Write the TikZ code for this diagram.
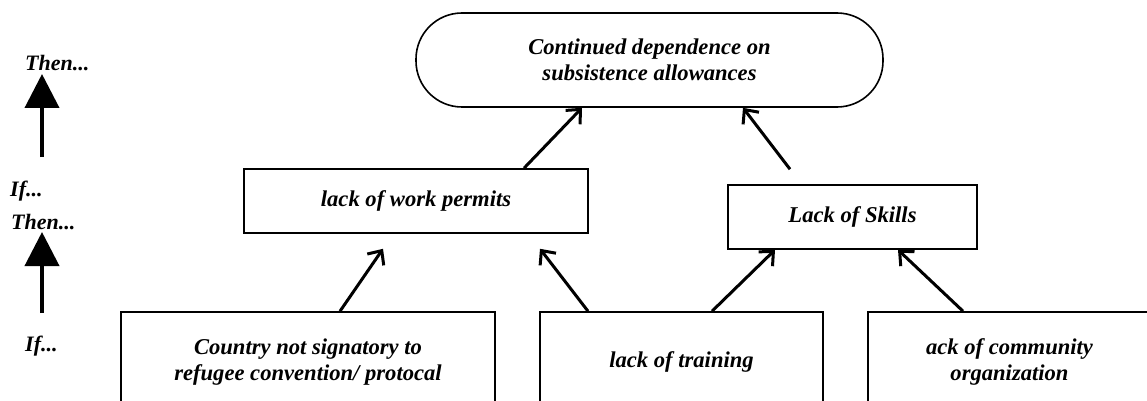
\documentclass[tikz,border=0pt]{standalone}
\usepackage{fontspec}
\setmainfont{Liberation Serif}
\usetikzlibrary{arrows.meta}

\tikzset{
  box/.style={rectangle,draw,line width=1.6pt,inner sep=0pt,align=center,
    font=\fontsize{22.6}{26}\selectfont\bfseries\itshape},
  cause/.style={-{Straight Barb[length=11pt,width=20pt]},line width=3pt},
  tag/.style={anchor=base west,inner sep=0pt,
    font=\fontsize{22}{26}\selectfont\bfseries\itshape},
  level/.style={-{Triangle[length=34pt,width=34pt]},line width=4pt}
}

\begin{document}
\begin{tikzpicture}[x=1pt,y=-1pt]
    \useasboundingbox (0,0) rectangle (1147,401);
    %\draw[red] (0,0) rectangle (1147,401);
    \node[box,rounded corners=46pt,minimum width=467pt,minimum height=94pt] at (649.5,60) (goal) {Continued dependence on\\subsistence allowances};
    \node[box,minimum width=344pt,minimum height=64pt] at (416,201) (permits) {lack of work permits};
    \node[box,minimum width=249pt,minimum height=64pt] at (852.5,217) (skills) {Lack of Skills};
    \node[box,minimum width=374pt,minimum height=100pt] at (308,362) (country) {Country not signatory to\\refugee convention/ protocal};
    \node[box,minimum width=283pt,minimum height=100pt] at (681.5,362) (training) {lack of training};
    \node[box,minimum width=283pt,minimum height=100pt] at (1009.5,362) (org) {ack of community\\organization};
    % if ... then links
    \draw[cause] ([xshift=108pt]permits.north) -- ([xshift=-67.5pt]goal.south);
    \draw[cause] ([xshift=-62.5pt,yshift=15pt]skills.north) -- ([xshift=93.5pt]goal.south);
    \draw[cause] ([xshift=32pt]country.north) -- ([xshift=-33pt,yshift=-15pt]permits.south);
    \draw[cause] ([xshift=-93.5pt]training.north) -- ([xshift=124pt,yshift=-15pt]permits.south);
    \draw[cause] ([xshift=30.5pt]training.north) -- ([xshift=-77.5pt]skills.south);
    \draw[cause] ([xshift=-46.5pt]org.north) -- ([xshift=45.5pt]skills.south);
    % levels on the left
    \node[tag] at (25,71) (then1) {Then...};
    \node[tag] at (10,196) (if1) {If...};
    \node[tag] at (11,229) (then2) {Then...};
    \node[tag] at (25,351) (if2) {If...};
    \coordinate (a1) at (42,157);
    \coordinate (b1) at (42,74);
    \coordinate (a2) at (42,313);
    \coordinate (b2) at (42,232);
    \draw[level] (a1) -- (b1);
    \draw[level] (a2) -- (b2);
\end{tikzpicture}
\end{document}
